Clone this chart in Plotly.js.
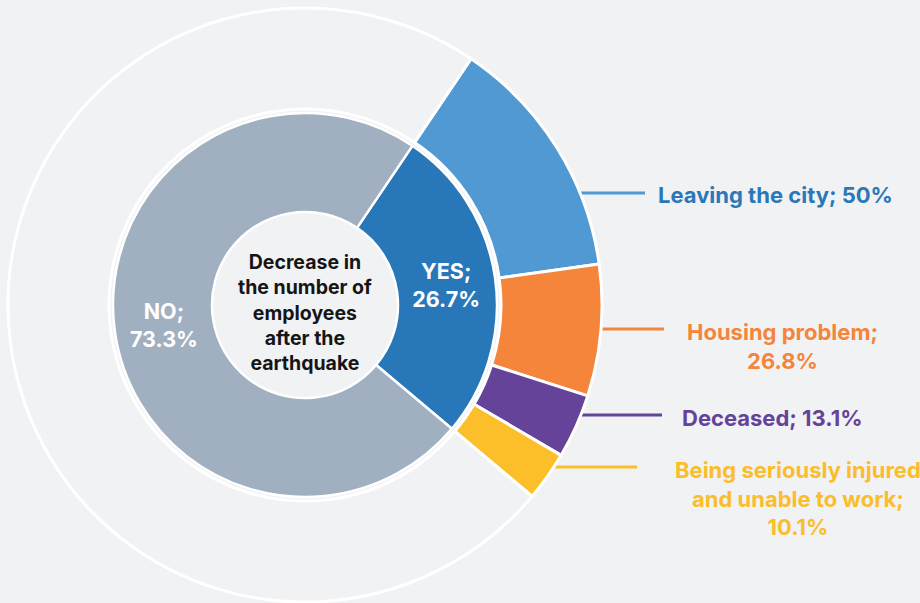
<!DOCTYPE html>
<html>
<head>
<meta charset="utf-8">
<script src="https://cdn.plot.ly/plotly-3.0.1.min.js"></script>
<style>html,body{margin:0;padding:0;background:#f1f2f4;}#chart{width:920px;height:603px;}</style>
</head>
<body>
<div id="chart"></div>
<script>
// ---- data ----
const innerLabels = ['YES', 'NO'];
const innerValues = [26.7, 73.3];
const reasonLabels = ['Leaving the city', 'Housing problem', 'Deceased', 'Being seriously injured<br>and unable to work'];
const reasonShares = [50, 26.8, 13.1, 10.1];
const centerTitle = 'Decrease in<br>the number of<br>employees<br>after the<br>earthquake';

// ---- styles ----
const FONT = 'Inter, Roboto, sans-serif';
const innerColors = ['#2878b9', '#a0b0c1'];
const reasonColors = ['#5099d3', '#f4853b', '#654399', '#fcbf29'];
const reasonTextColors = ['#2a78b8', '#f4853b', '#654399', '#fcbd2a'];
const labelSep = [' ', '<br>', ' ', '<br>'];

const W = 920, H = 603;
const px = x => x / W;
const py = y => 1 - y / H;
const cx = 305, cy = 305;
const rOuter = 297, rInner = 192;

const yesValue = innerValues[0];
const outerValues = reasonShares.map(s => s / 100 * yesValue).concat([innerValues[1]]);
const outerColors = reasonColors.concat(['rgba(0,0,0,0)']);

const inner = {
  type: 'pie',
  labels: innerLabels,
  values: innerValues,
  sort: false,
  direction: 'clockwise',
  rotation: 34,
  hole: 93 / rInner,
  domain: {x: [px(cx - rInner), px(cx + rInner)], y: [py(cy + rInner), py(cy - rInner)]},
  marker: {colors: innerColors, line: {color: '#ffffff', width: 2.5}},
  texttemplate: '<b>%{label};<br>%{value}%</b>',
  textposition: 'inside',
  insidetextorientation: 'horizontal',
  textfont: {family: FONT, size: 21.5, color: '#ffffff'},
  hoverinfo: 'none',
  showlegend: false
};

const outer = {
  type: 'pie',
  labels: reasonLabels.concat(['none']),
  values: outerValues,
  sort: false,
  direction: 'clockwise',
  rotation: 34,
  hole: 196 / rOuter,
  domain: {x: [px(cx - rOuter), px(cx + rOuter)], y: [py(cy + rOuter), py(cy - rOuter)]},
  marker: {colors: outerColors, line: {color: '#ffffff', width: 3}},
  textinfo: 'none',
  hoverinfo: 'none',
  showlegend: false
};

// label placement (layout)
const labelPos = [[775, 195], [782, 346], [772, 418], [798, 498]];
const linePos = [[570, 645, 193], [585, 664, 329], [575, 662, 415], [550, 637, 467]];

const annotations = [{
  x: px(cx), y: py(312), xref: 'paper', yref: 'paper',
  text: '<b>' + centerTitle + '</b>', showarrow: false,
  font: {family: FONT, size: 19.5, color: '#151515'},
  align: 'center', xanchor: 'center', yanchor: 'middle'
}];
const shapes = [];
reasonLabels.forEach((lab, i) => {
  annotations.push({
    x: px(labelPos[i][0]), y: py(labelPos[i][1]), xref: 'paper', yref: 'paper',
    text: '<b>' + lab + ';' + labelSep[i] + reasonShares[i] + '%</b>',
    showarrow: false, align: 'center', xanchor: 'center', yanchor: 'middle',
    font: {family: FONT, size: 22, color: reasonTextColors[i]}
  });
  shapes.push({
    type: 'line', xref: 'paper', yref: 'paper', layer: 'below',
    x0: px(linePos[i][0]), x1: px(linePos[i][1]), y0: py(linePos[i][2]), y1: py(linePos[i][2]),
    line: {color: reasonColors[i], width: 3}
  });
});

const layout = {
  width: W, height: H,
  margin: {l: 0, r: 0, t: 0, b: 0},
  paper_bgcolor: '#f1f2f4',
  plot_bgcolor: '#f1f2f4',
  showlegend: false,
  annotations: annotations,
  shapes: shapes
};

Plotly.newPlot('chart', [outer, inner], layout, {displayModeBar: false, staticPlot: true});
</script>
</body>
</html>
